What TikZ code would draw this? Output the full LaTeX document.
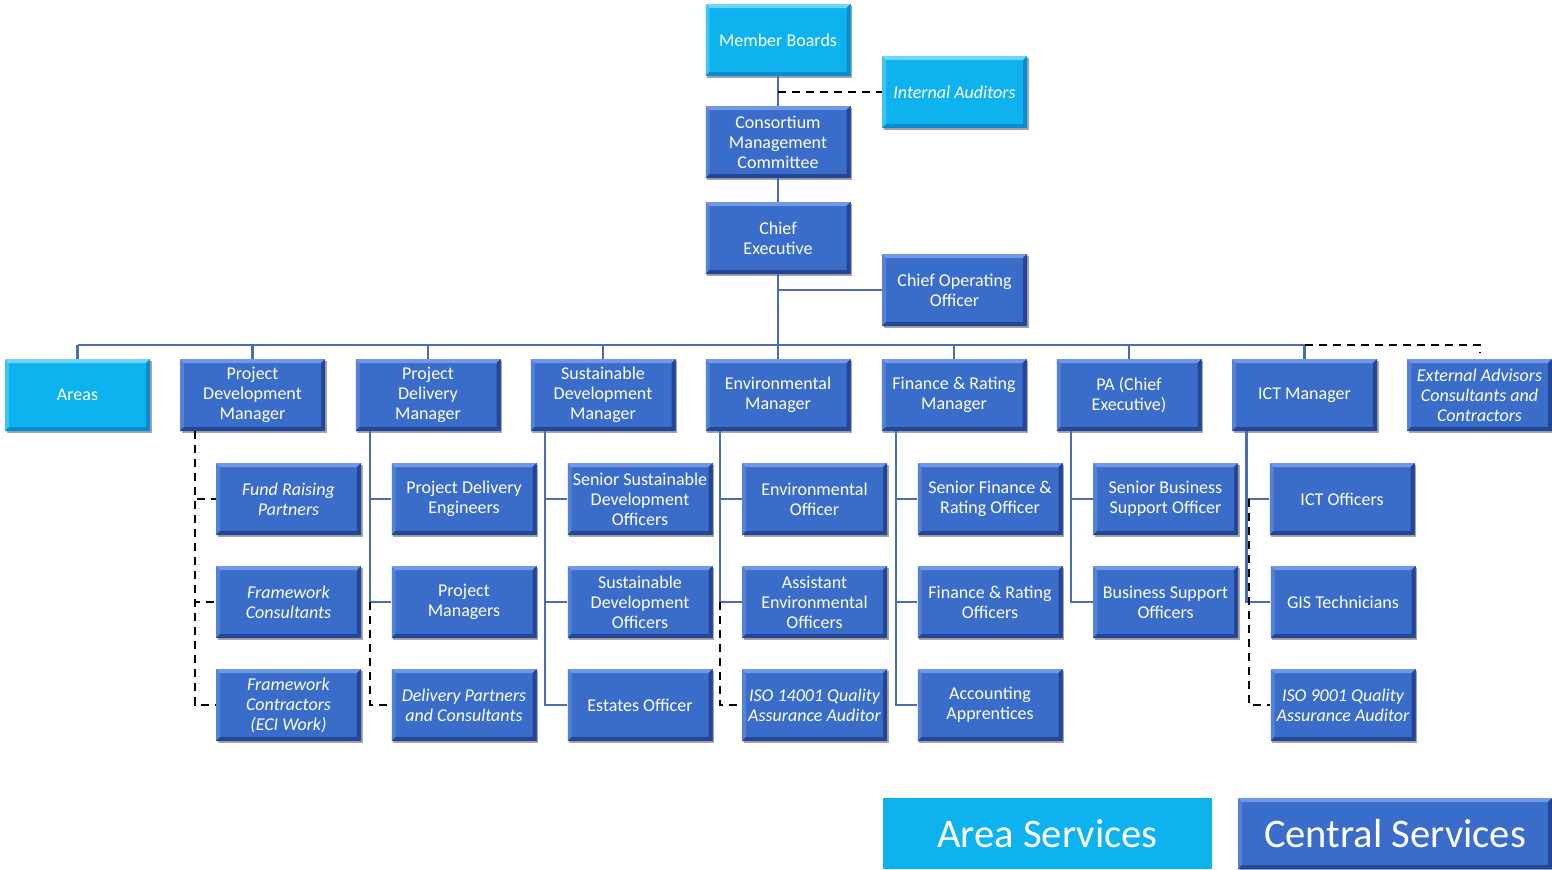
\documentclass[tikz,border=0pt]{standalone}
\usepackage{fontspec}
\setmainfont{Carlito}
\usetikzlibrary{shadows}
\definecolor{cy}{RGB}{14,178,238}
\definecolor{cyhi}{RGB}{110,214,250}
\definecolor{cylo}{RGB}{8,140,205}
\definecolor{db}{RGB}{58,108,202}
\definecolor{dbhi}{RGB}{112,152,228}
\definecolor{dblo}{RGB}{36,70,150}
\definecolor{ln}{RGB}{76,108,176}
\tikzset{
  bevel/.style 2 args={path picture={
    \fill[#1] (path picture bounding box.north west) -- (path picture bounding box.north east)
      -- ([xshift=-2pt,yshift=-2pt]path picture bounding box.north east)
      -- ([xshift=2pt,yshift=-2pt]path picture bounding box.north west) -- cycle;
    \fill[#1,opacity=0.5] (path picture bounding box.north west) -- ([xshift=2pt,yshift=-2pt]path picture bounding box.north west)
      -- ([xshift=2pt,yshift=2pt]path picture bounding box.south west) -- (path picture bounding box.south west) -- cycle;
    \fill[#2] (path picture bounding box.south west) -- (path picture bounding box.south east)
      -- ([xshift=-2pt,yshift=2pt]path picture bounding box.south east)
      -- ([xshift=2pt,yshift=2pt]path picture bounding box.south west) -- cycle;
    \fill[#2] (path picture bounding box.north east) -- ([xshift=-2pt,yshift=-2pt]path picture bounding box.north east)
      -- ([xshift=-2pt,yshift=2pt]path picture bounding box.south east) -- (path picture bounding box.south east) -- cycle;
  }},
  box/.style={rectangle, minimum width=72.5pt, minimum height=36pt, inner sep=1pt,
    text=white, align=center, font=\fontsize{9}{10}\selectfont,
    fill=db, bevel={dbhi}{dblo},
    drop shadow={shadow xshift=0.8pt, shadow yshift=-0.8pt, opacity=0.35, fill=black}},
  cbox/.style={box, fill=cy, bevel={cyhi}{cylo}},
  it/.style={font=\fontsize{9}{10}\selectfont\itshape},
  conn/.style={draw=ln, line width=1.2pt},
  dsh/.style={draw=black, line width=1pt, dash pattern=on 4pt off 3pt},
}
\begin{document}
\begin{tikzpicture}[x=0.5pt, y=-0.5pt]
\useasboundingbox (0,0) rectangle (1552,869);

% top
\node[cbox] (mb) at (778,40) {Member Boards};
\node[cbox, it] (ia) at (954.5,92) {Internal Auditors};
\node[box] (cmc) at (778,142) {Consortium\\Management\\Committee};
\node[box] (ce) at (778,238) {Chief\\Executive};
\node[box] (coo) at (954.5,290) {Chief Operating\\Officer};

% row 1
\node[cbox] (areas) at (77.5,395) {Areas};
\node[box] (pdm) at (252.5,395) {Project\\Development\\Manager};
\node[box] (pdel) at (428,395) {Project\\Delivery\\Manager};
\node[box] (sdm) at (603,395) {Sustainable\\Development\\Manager};
\node[box] (env) at (778,395) {Environmental\\Manager};
\node[box] (fin) at (954,395) {Finance \& Rating\\Manager};
\node[box] (pa) at (1129,395) {PA (Chief\\Executive)};
\node[box] (ict) at (1304.5,395) {ICT Manager};
\node[box, it] (ext) at (1479.5,395) {External Advisors\\Consultants and\\Contractors};

% children
\node[box, it] (frp) at (288.5,499) {Fund Raising\\Partners};
\node[box, it] (fwc) at (288.5,602) {Framework\\Consultants};
\node[box, it] (fwk) at (288.5,705) {Framework\\Contractors\\(ECI Work)};

\node[box] (pde) at (464,499) {Project Delivery\\Engineers};
\node[box] (pm) at (464,602) {Project\\Managers};
\node[box, it] (dpc) at (464,705) {Delivery Partners\\and Consultants};

\node[box] (ssdo) at (640,499) {Senior Sustainable\\Development\\Officers};
\node[box] (sdo) at (640,602) {Sustainable\\Development\\Officers};
\node[box] (eo) at (640,705) {Estates Officer};

\node[box] (envo) at (814.5,499) {Environmental\\Officer};
\node[box] (aeo) at (814.5,602) {Assistant\\Environmental\\Officers};
\node[box, it] (iso14) at (814.5,705) {ISO 14001 Quality\\Assurance Auditor};

\node[box] (sfro) at (990,499) {Senior Finance \&\\Rating Officer};
\node[box] (fro) at (990,602) {Finance \& Rating\\Officers};
\node[box] (acc) at (990,705) {Accounting\\Apprentices};

\node[box] (sbso) at (1165.5,499) {Senior Business\\Support Officer};
\node[box] (bso) at (1165.5,602) {Business Support\\Officers};

\node[box] (icto) at (1342,499) {ICT Officers};
\node[box] (gis) at (1343,602) {GIS Technicians};
\node[box, it] (iso9) at (1343,705) {ISO 9001 Quality\\Assurance Auditor};

% legend
\node[rectangle, fill=cy, minimum width=164.5pt, minimum height=35.5pt, text=white,
  font=\fontsize{20.3}{24}\selectfont] (as) at (1047.5,833.5) {Area Services};
\node[box, minimum width=157pt, minimum height=35.5pt,
  font=\fontsize{20.3}{24}\selectfont] (cs) at (1395,833.5) {Central Services};

% top connectors
\coordinate (bar) at (778,345);
\coordinate (extT) at ([yshift=3pt]ext.north);
\draw[conn] (mb) -- (cmc);
\draw[dsh] (mb.south |- ia.west) -- (ia.west);
\draw[conn] (cmc) -- (ce);
\draw[conn] (ce.south) -- (ce.south |- bar);
\draw[conn] (ce.south |- coo.west) -- (coo.west);
\draw[conn] (areas.north |- bar) -- (ict.north |- bar);
\foreach \n in {areas,pdm,pdel,sdm,env,fin,pa,ict}
  \draw[conn] (\n.north) -- (\n.north |- bar);
\draw[dsh] (ict.north |- bar) -| (extT);

% spines
\foreach \n in {pdm,pdel,sdm,env,fin,pa,ict}
  \coordinate (\n S) at ([xshift=7.5pt]\n.south west);
\coordinate (ictD) at ([xshift=8.5pt]ict.south west);

\draw[dsh] (pdmS) |- (frp.west);
\draw[dsh] (pdmS) |- (fwc.west);
\draw[dsh] (pdmS) |- (fwk.west);

\draw[conn] (pdelS) |- (pde.west);
\draw[conn] (pdelS) |- (pm.west);
\draw[dsh] (pdelS |- pm.west) |- (dpc.west);

\draw[conn] (sdmS) |- (ssdo.west);
\draw[conn] (sdmS) |- (sdo.west);
\draw[conn] (sdmS) |- (eo.west);

\draw[conn] (envS) |- (envo.west);
\draw[conn] (envS) |- (aeo.west);
\draw[dsh] (envS |- aeo.west) |- (iso14.west);

\draw[conn] (finS) |- (sfro.west);
\draw[conn] (finS) |- (fro.west);
\draw[conn] (finS) |- (acc.west);

\draw[conn] (paS) |- (sbso.west);
\draw[conn] (paS) |- (bso.west);

\draw[conn] (ictS) |- (icto.west);
\draw[conn] (ictS) |- (gis.west);
\draw[dsh] (ictD |- icto.west) |- (iso9.west);
\end{tikzpicture}
\end{document}
